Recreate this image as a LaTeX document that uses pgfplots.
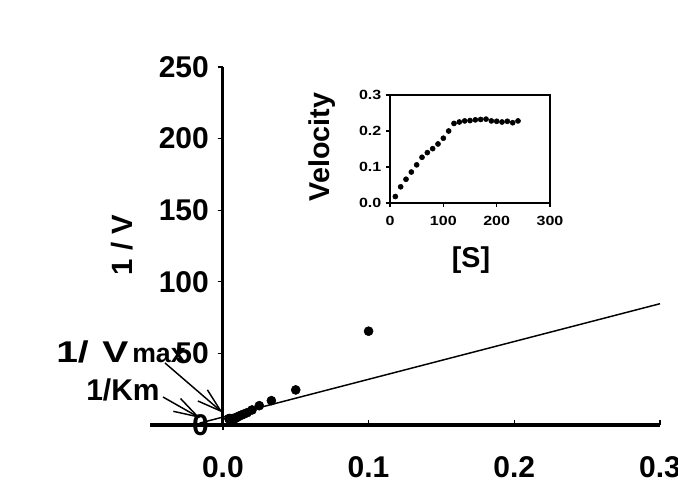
\documentclass[border=0pt]{standalone}
\usepackage{fontspec}
\setmainfont{Liberation Sans}
\usepackage{pgfplots}
\pgfplotsset{compat=1.18}
\usetikzlibrary{arrows.meta}
\begin{document}
\begin{tikzpicture}
\useasboundingbox (0,0) rectangle (508.5pt,367.5pt);
\clip (0,0) rectangle (508.5pt,367.5pt);
% main Lineweaver-Burk plot
\begin{axis}[
  at={(112.5pt,48.75pt)}, anchor=south west,
  scale only axis, width=382.5pt, height=268.5pt,
  xmin=-0.05, xmax=0.3, ymin=0, ymax=250,
  axis lines=middle,
  axis line style={-, line width=2.3pt},
  xtick={0.1,0.2,0.3}, ytick={50,100,150,200,250},
  extra x ticks={0}, extra y ticks={0},
  xtick align=inside, ytick align=outside,
  major tick length=4pt,
  every tick/.style={black, line width=1pt},
  tick label style={font=\fontsize{22.5}{24}\selectfont\bfseries},
  /pgf/number format/assume math mode=true,
  xticklabel style={/pgf/number format/.cd, fixed, fixed zerofill, precision=1, /tikz/.cd, yshift=-20pt},
  yticklabel style={xshift=-3pt},
  extra x tick style={xtick align=center, major tick length=8pt, xticklabel style={yshift=3.5pt}},
  extra y tick style={ytick align=outside},
  clip=false,
]
\addplot[only marks, mark=*, mark size=3.4pt, black] coordinates {
(0.1,65.5) (0.05,24.5) (0.0333,17) (0.025,13.5) (0.02,10.5) (0.0167,8.6)
(0.0143,7.6) (0.0125,6.8) (0.0111,6.2) (0.01,5.6) (0.0091,5.0) (0.0083,4.5)
(0.0077,4.4) (0.0071,4.35) (0.0067,4.3) (0.00625,4.3) (0.0059,4.3) (0.0056,4.25)
(0.0053,4.35) (0.005,4.4) (0.0048,4.4) (0.0045,4.4) (0.0043,4.45) (0.0042,4.4)
};
\addplot[black, line width=1.1pt] coordinates {(-0.016,1.3) (0.3,84.7)};
\end{axis}
% inset Michaelis-Menten plot
\begin{axis}[
  at={(292.5pt,215.25pt)}, anchor=south west,
  scale only axis, width=120pt, height=81pt,
  xmin=0, xmax=300, ymin=0, ymax=0.3,
  axis line style={line width=2.2pt},
  xtick={0,100,200,300}, ytick={0,0.1,0.2,0.3},
  tick align=outside, xtick pos=bottom, ytick pos=left,
  major tick length=3pt,
  every tick/.style={black, line width=0.8pt},
  tick label style={font=\fontsize{10}{12}\selectfont\bfseries},
  /pgf/number format/assume math mode=true,
  yticklabel={\scalebox{1.2}[1]{\pgfmathprintnumber[fixed, fixed zerofill, precision=1]{\tick}}},
  xticklabel={\scalebox{1.2}[1]{\pgfmathprintnumber{\tick}}},
  xticklabel style={yshift=-3pt},
]
\addplot[only marks, mark=*, mark size=1.9pt, black] coordinates {
(10,0.018) (20,0.045) (30,0.066) (40,0.086) (50,0.106) (60,0.127) (70,0.140)
(80,0.151) (90,0.164) (100,0.180) (110,0.200) (120,0.221) (130,0.225) (140,0.228)
(150,0.229) (160,0.231) (170,0.232) (180,0.233) (190,0.228) (200,0.227) (210,0.225)
(220,0.227) (230,0.223) (240,0.228)
};
\end{axis}
\begin{scope}[x=0.75pt, y=-0.75pt, shift={(0,367.5pt)}]
  \node[rotate=90, font=\fontsize{22}{24}\selectfont\bfseries] at (122,245) {1 / V};
  \node[anchor=north, inner sep=0pt, font=\fontsize{21}{24}\selectfont\bfseries] at (410,494) {1 / [S]};
  \node[rotate=90, font=\fontsize{21.5}{24}\selectfont\bfseries] at (322,147) {Velocity};
  \node[font=\fontsize{21.5}{24}\selectfont\bfseries] at (471,260) {[S]};
  \node[anchor=base west, inner sep=0pt, font=\fontsize{22.5}{24}\selectfont\bfseries] at (56,362) {\scalebox{1.3}[1]{1/}};
  \node[anchor=base west, inner sep=0pt, font=\fontsize{22.5}{24}\selectfont\bfseries] at (102,362) {\scalebox{1.3}[1]{V}};
  \node[anchor=base west, inner sep=0pt, font=\fontsize{20}{24}\selectfont\bfseries] at (132,362) {max};
  \node[anchor=base west, inner sep=0pt, font=\fontsize{22.5}{24}\selectfont\bfseries] at (86,400) {1/Km};
  \draw[line width=1.1pt, -{Straight Barb[length=18pt, width=11pt, line width=1.1pt]}] (165,363) -- (222.7,412.7);
  \draw[line width=1.1pt, -{Straight Barb[length=18pt, width=11pt, line width=1.1pt]}] (163,397) -- (200,418);
\end{scope}
\end{tikzpicture}
\end{document}
